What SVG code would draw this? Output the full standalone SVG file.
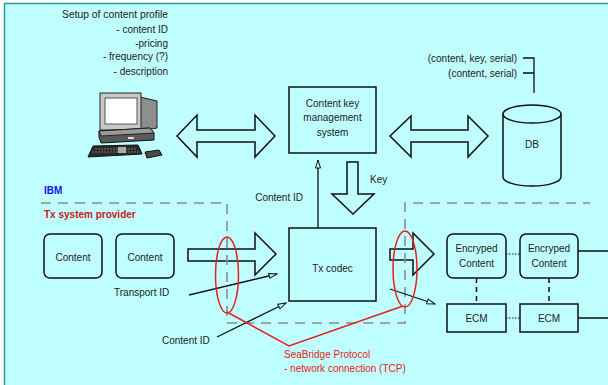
<svg xmlns="http://www.w3.org/2000/svg" width="608" height="385" viewBox="0 0 608 385">
  <defs>
    <style>
      text { font-family: "Liberation Sans", Arial, sans-serif; font-size: 10px; fill: #222; }
      .end { text-anchor: end; }
      .mid { text-anchor: middle; }
      .box { fill: #BFFFFF; stroke: #111; stroke-width: 1.5; }
      .block { fill: #BFFFFF; stroke: #111; stroke-width: 1.5; stroke-linejoin: miter; }
      .line { fill: none; stroke: #111; stroke-width: 1.3; }
      .bound { fill: none; stroke: #8C8C8C; stroke-width: 1.6; stroke-dasharray: 10 7; }
      .red { fill: none; stroke: #E82020; stroke-width: 1.5; }
      .redtext { fill: #E82020; }
    </style>
    <marker id="open" markerWidth="10" markerHeight="8" refX="9" refY="3.5" orient="auto" markerUnits="userSpaceOnUse">
      <path d="M1,1 L9,3.5 L1,6 z" fill="#BFFFFF" stroke="#111" stroke-width="1"/>
    </marker>
  </defs>

  <!-- page background -->
  <rect x="4.5" y="3.5" width="620" height="400" fill="#BFFFFF" stroke="#2A9A9A" stroke-width="1.5"/>

  <!-- content profile notes -->
  <g id="profile-notes">
    <text class="end" x="168" y="17.5" style="font-size:10.3px">Setup of content profile</text>
    <text class="end" x="168" y="33">- content ID</text>
    <text class="end" x="168" y="46.5">-pricing</text>
    <text class="end" x="168" y="60">- frequency (?)</text>
    <text class="end" x="168" y="74.5">- description</text>
  </g>

  <!-- workstation -->
  <g id="computer">
    <polygon points="140,97 157,101 157,128 140,131" fill="#8E8E8E" stroke="#222" stroke-width="1"/>
    <rect x="100" y="93" width="41" height="37" fill="#C8C8C8" stroke="#222" stroke-width="1"/>
    <rect x="105" y="98" width="32" height="26" fill="#FFFFFF" stroke="#555" stroke-width="1"/>
    <polygon points="99,131 150,128 154,133 154,140 101,143 99,137" fill="#5A5A5A" stroke="#111" stroke-width="1"/>
    <polygon points="99,131 150,128 154,133 101,136" fill="#9A9A9A" stroke="#111" stroke-width="0.8"/>
    <rect x="128" y="137" width="6" height="2" fill="#DDD"/>
    <polygon points="93,146 138,145 142,154 88,157" fill="#2A2A2A" stroke="#111" stroke-width="1"/>
    <path d="M95,149 H136 M92,152 H139" stroke="#888" stroke-width="0.8" stroke-dasharray="2 1"/>
    <rect x="118" y="147" width="8" height="6" fill="#AAA"/>
    <polygon points="145,152 159,150 162,155 147,158" fill="#4A4A4A" stroke="#111" stroke-width="1"/>
  </g>

  <!-- key management system -->
  <g id="ckms">
    <rect class="box" x="289" y="87" width="87" height="66"/>
    <text class="mid" x="332.5" y="106.5">Content key</text>
    <text class="mid" x="332.5" y="120.5">management</text>
    <text class="mid" x="332.5" y="135.5">system</text>
  </g>

  <!-- database -->
  <g id="db">
    <path d="M503,114 V177 A29,9 0 0 0 561,177 V114" fill="#BFFFFF" stroke="#111" stroke-width="1.5"/>
    <ellipse cx="532" cy="114" rx="29" ry="9" fill="#BFFFFF" stroke="#111" stroke-width="1.5"/>
    <text class="mid" x="532" y="147.5">DB</text>
  </g>

  <!-- record formats -->
  <g id="db-records">
    <text class="end" x="517" y="61.5">(content, key, serial)</text>
    <text class="end" x="517" y="76.5">(content, serial)</text>
    <path class="line" d="M523,58 H534 V93 M523,73 H534"/>
  </g>

  <!-- content items -->
  <g id="content-1">
    <rect class="box" x="44" y="234" width="58" height="44" rx="6"/>
    <text class="mid" x="73" y="260.5">Content</text>
  </g>
  <g id="content-2">
    <rect class="box" x="116" y="234" width="58" height="44" rx="6"/>
    <text class="mid" x="145" y="260.5">Content</text>
  </g>

  <!-- codec -->
  <g id="tx-codec">
    <rect class="box" x="289" y="228" width="87" height="73"/>
    <text class="mid" x="332.5" y="271.5">Tx codec</text>
  </g>

  <!-- encrypted output -->
  <g id="enc-1">
    <rect class="box" x="447" y="234" width="59" height="44" rx="6"/>
    <text class="mid" x="476.5" y="251.5">Encryped</text>
    <text class="mid" x="476.5" y="266.5">Content</text>
  </g>
  <g id="enc-2">
    <rect class="box" x="520" y="234" width="58" height="44" rx="6"/>
    <text class="mid" x="549" y="251.5">Encryped</text>
    <text class="mid" x="549" y="266.5">Content</text>
  </g>
  <g id="ecm-1">
    <rect class="box" x="447" y="304" width="59" height="28"/>
    <text class="mid" x="476.5" y="321.5">ECM</text>
  </g>
  <g id="ecm-2">
    <rect class="box" x="520" y="304" width="58" height="28"/>
    <text class="mid" x="549" y="321.5">ECM</text>
  </g>

  <!-- organisation labels -->
  <g id="labels">
    <text x="44" y="193.5" style="font-weight:bold;fill:#1414E6">IBM</text>
    <text x="44" y="217.5" style="font-weight:bold;fill:#C82020">Tx system provider</text>
  </g>

  <g id="connectors">
    <!-- block arrows -->
    <polygon class="block" points="177,136 197,115 197,130 255,130 255,115 275,136 255,157 255,142 197,142 197,157"/>
    <polygon class="block" points="390,136 411,116 411,130 468,130 468,116 488,136 468,157 468,142 411,142 411,157"/>
    <polygon class="block" points="347,162 358,162 358,194 374,194 353,214 332,194 347,194"/>
    <polygon class="block" points="188,249 255,249 255,233 276,254 255,275 255,261 188,261"/>
    <polygon class="block" points="390,249 413,249 413,233 434,254 413,275 413,260 390,260"/>

    <!-- organisation boundary -->
    <path class="bound" d="M41,203 H227 V323 H405 V203 H590"/>

    <!-- id lines -->
    <line class="line" x1="318" y1="228" x2="318" y2="160" marker-end="url(#open)"/>
    <line class="line" x1="189" y1="295" x2="277" y2="274" marker-end="url(#open)"/>
    <line class="line" x1="217" y1="337" x2="286" y2="303" marker-end="url(#open)"/>
    <line class="line" x1="390" y1="289" x2="435" y2="304" marker-end="url(#open)"/>

    <!-- links between output stages -->
    <path d="M506,254 H520 M506,318 H520" fill="none" stroke="#111" stroke-width="1" stroke-dasharray="1.5 1.5"/>
    <path d="M476.5,278 V304 M549,278 V304" fill="none" stroke="#111" stroke-width="1.5" stroke-dasharray="5 4"/>
    <path class="line" d="M578,251 H608 M578,318 H608"/>

    <!-- protocol callout -->
    <ellipse class="red" cx="227" cy="275" rx="11.5" ry="38"/>
    <ellipse class="red" cx="405" cy="269" rx="12" ry="38"/>
    <path class="red" d="M227,312 L289,346 L403,306"/>
  </g>

  <!-- connector labels -->
  <g id="connector-labels">
    <text x="370" y="182.5">Key</text>
    <text class="end" x="303" y="200.5">Content ID</text>
    <text x="114" y="295.5">Transport ID</text>
    <text x="162" y="343.5">Content ID</text>
    <text class="redtext" x="284" y="357.5">SeaBridge Protocol</text>
    <text class="redtext" x="284" y="371.5">- network connection (TCP)</text>
  </g>
</svg>
